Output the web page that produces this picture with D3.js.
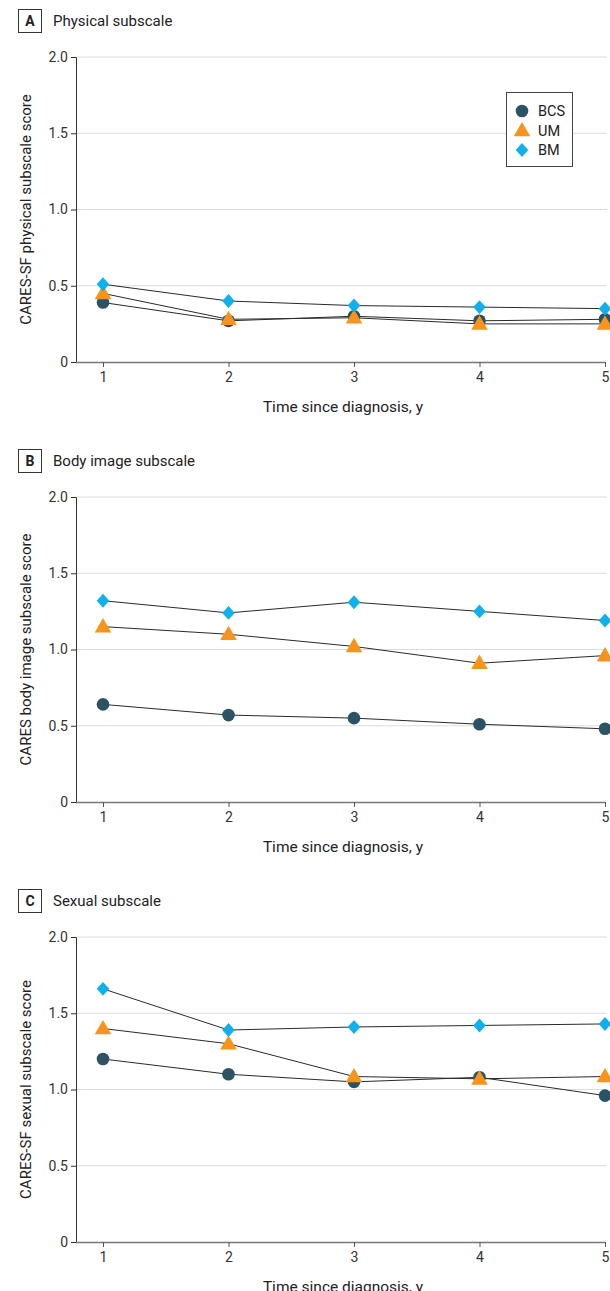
<!DOCTYPE html>
<html><head><meta charset="utf-8">
<script src="https://cdn.jsdelivr.net/npm/d3@7"></script>
<style>
body{margin:0;background:#fff;}
svg{display:block;font-family:"Roboto","Noto Sans",sans-serif;}
</style></head>
<body><svg id="chart" width="610" height="1291"></svg>
<script>
const years = [1, 2, 3, 4, 5];
const yTicks = [0, 0.5, 1.0, 1.5, 2.0];
const seriesNames = ["BCS", "UM", "BM"];
const seriesColors = ["#2b5363", "#f7941d", "#0fb0ec"];

const physicalBCS = [0.39, 0.27, 0.30, 0.27, 0.28];
const physicalUM  = [0.45, 0.28, 0.29, 0.25, 0.25];
const physicalBM  = [0.51, 0.40, 0.37, 0.36, 0.35];

const bodyBCS = [0.64, 0.57, 0.55, 0.51, 0.48];
const bodyUM  = [1.15, 1.10, 1.02, 0.91, 0.96];
const bodyBM  = [1.32, 1.24, 1.31, 1.25, 1.19];

const sexualBCS = [1.20, 1.10, 1.05, 1.08, 0.96];
const sexualUM  = [1.40, 1.30, 1.085, 1.07, 1.085];
const sexualBM  = [1.66, 1.39, 1.41, 1.42, 1.43];

const panels = [
  {letter:"A", title:"Physical subscale", ylabel:"CARES-SF physical subscale score", data:[physicalBCS, physicalUM, physicalBM], legend:true},
  {letter:"B", title:"Body image subscale", ylabel:"CARES body image subscale score", data:[bodyBCS, bodyUM, bodyBM], legend:false},
  {letter:"C", title:"Sexual subscale", ylabel:"CARES-SF sexual subscale score", data:[sexualBCS, sexualUM, sexualBM], legend:false}
];

const svg = d3.select("#chart");
const axisX0 = 76, plotRight = 607;
const x = d3.scaleLinear().domain([1, 5]).range([103, 605]);

const symbols = [d3.symbolCircle, d3.symbolTriangle, d3.symbolSquare];
const symSizes = [125, 120, 88];
function drawMarker(g, i, cx, cy) {
  const sym = d3.symbol().type(symbols[i]).size(symSizes[i]);
  let tr = `translate(${cx},${cy})`;
  if (i === 1) tr = `translate(${cx},${cy + 1})`;
  if (i === 2) tr = `translate(${cx},${cy}) scale(0.95,1.05) rotate(45)`;
  g.append("path").attr("d", sym()).attr("fill", seriesColors[i]).attr("transform", tr);
}

panels.forEach((p, pi) => {
  const off = pi * 440;
  const g = svg.append("g").attr("transform", `translate(0,${off})`);
  const y = d3.scaleLinear().domain([0, 2]).range([362, 57]);

  // title
  g.append("rect").attr("x", 18.5).attr("y", 9.5).attr("width", 23).attr("height", 23)
    .attr("fill", "none").attr("stroke", "#333").attr("stroke-width", 1);
  g.append("text").attr("x", 30).attr("y", 26).attr("text-anchor", "middle")
    .attr("font-size", 14).attr("font-weight", "bold").attr("fill", "#222").text(p.letter);
  g.append("text").attr("x", 53).attr("y", 26).attr("font-size", 15).attr("fill", "#222").text(p.title);

  // gridlines
  g.selectAll("line.grid").data(yTicks.filter(d => d > 0)).enter().append("line")
    .attr("x1", axisX0).attr("x2", plotRight).attr("y1", d => y(d)).attr("y2", d => y(d))
    .attr("stroke", "#dcdcdc").attr("stroke-width", 1);

  // y axis
  const yAxis = d3.axisLeft(y).tickValues(yTicks).tickSize(5).tickPadding(3)
    .tickFormat(d => d === 0 ? "0" : d3.format(".1f")(d));
  const ya = g.append("g").attr("transform", `translate(${axisX0},0)`).call(yAxis);
  ya.select(".domain").attr("stroke", "#333").attr("d", `M-5,${y(2)+0.5}H0.5V${y(0)}`);
  ya.selectAll(".tick line").attr("stroke", "#333");
  ya.selectAll(".tick text").attr("font-size", 14).attr("fill", "#333")
    .attr("font-family", "Roboto, sans-serif");

  // x axis
  const xAxis = d3.axisBottom(x).tickValues(years).tickSize(5).tickPadding(5).tickFormat(d3.format("d"));
  const xa = g.append("g").attr("transform", `translate(0,${y(0)})`).call(xAxis);
  xa.select(".domain").attr("stroke", "#777").attr("stroke-width", 1.5).attr("d", `M${axisX0},0.5H${x(5)+0.5}`);
  xa.selectAll(".tick line").attr("stroke", "#555");
  xa.selectAll(".tick text").attr("font-size", 14).attr("fill", "#333")
    .attr("font-family", "Roboto, sans-serif");

  // axis labels
  g.append("text").attr("x", (x(1) + x(5)) / 2 - 11).attr("y", 412).attr("text-anchor", "middle")
    .attr("font-size", 15.5).attr("fill", "#222").text("Time since diagnosis, y");
  g.append("text").attr("transform", `translate(31,${(y(0) + y(2)) / 2}) rotate(-90)`)
    .attr("text-anchor", "middle").attr("font-size", 15).attr("fill", "#222").text(p.ylabel);

  // lines
  const line = d3.line().x((d, i) => x(years[i])).y(d => y(d));
  p.data.forEach((vals) => {
    g.append("path").attr("d", line(vals)).attr("fill", "none")
      .attr("stroke", "#2a2a2a").attr("stroke-width", 1);
  });
  // markers
  p.data.forEach((vals, si) => {
    vals.forEach((v, i) => drawMarker(g, si, x(years[i]), y(v)));
  });

  // legend
  if (p.legend) {
    const lg = g.append("g");
    lg.append("rect").attr("x", 506.5).attr("y", 92.5).attr("width", 66).attr("height", 74)
      .attr("fill", "#fff").attr("stroke", "#444").attr("stroke-width", 1);
    seriesNames.forEach((n, i) => {
      const ly = 111 + i * 19.5;
      drawMarker(lg, i, 522, ly);
      lg.append("text").attr("x", 538).attr("y", ly + 5).attr("font-size", 14.5)
        .attr("fill", "#222").text(n);
    });
  }
});
</script></body></html>
